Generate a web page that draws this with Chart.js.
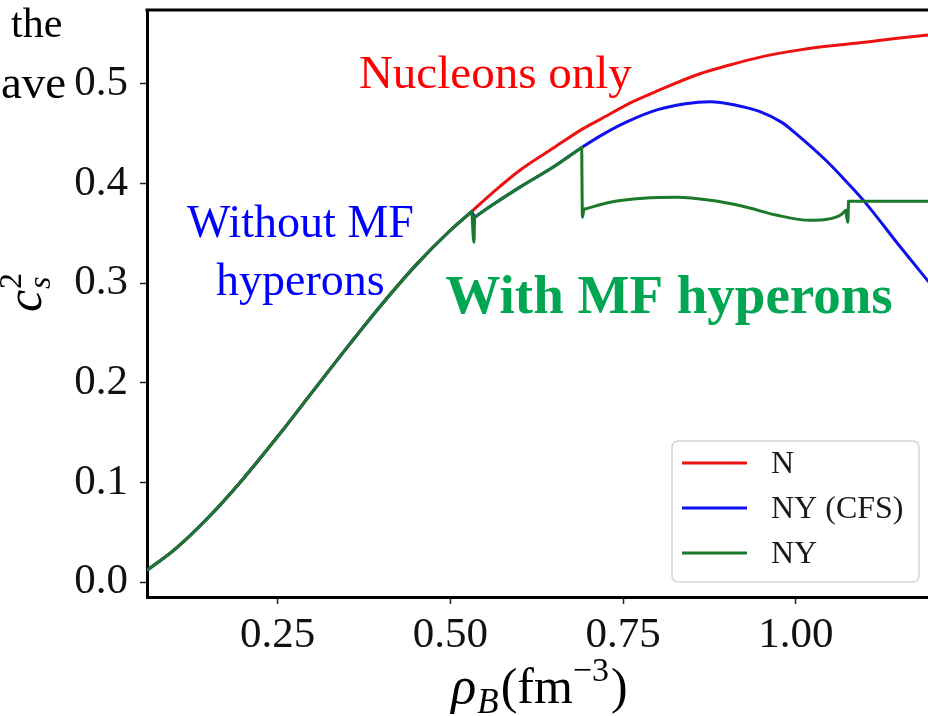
<!DOCTYPE html>
<html>
<head>
<meta charset="utf-8">
<script src="https://cdn.jsdelivr.net/npm/chart.js@4.4.0/dist/chart.umd.min.js"></script>
<style>
  html, body { margin: 0; padding: 0; background: #fff; }
  #wrap { position: relative; width: 928px; height: 716px; overflow: hidden; }
  #c { position: absolute; left: 0; top: 0; }
  .frag { position: absolute; font-family: "Liberation Serif", "Times New Roman", serif; line-height: 42px; color: #000; white-space: nowrap; }
</style>
</head>
<body>
<div id="wrap">
  <canvas id="c" width="928" height="716"></canvas>
  <div class="frag" style="left:11px; top:2px; font-size:42px;">the</div>
  <div class="frag" style="left:1px; top:61px; font-size:47px;">ave</div>
</div>
<script>
// ---------- data ----------
// shared low-density part (all three EoS coincide)
const lowRho = [0.061, 0.10, 0.15, 0.20, 0.25, 0.30, 0.35, 0.40, 0.45, 0.50, 0.531];
const lowCs2 = [0.012, 0.032, 0.065, 0.1035, 0.146, 0.1905, 0.235, 0.278, 0.318, 0.353, 0.372];

// N (nucleons only)
const nRho = [0.56, 0.60, 0.65, 0.692, 0.716, 0.764, 0.80, 0.861, 0.90, 0.95, 1.006, 1.05, 1.103, 1.15, 1.191];
const nCs2 = [0.390, 0.413, 0.436, 0.455, 0.464, 0.482, 0.493, 0.510, 0.518, 0.527, 0.534, 0.538, 0.542, 0.546, 0.549];

// NY (CFS)  -- null marks a break in the curve (jump at hyperon onset)
const cfsRho = [0.531, 0.531, 0.535, 0.535, 0.535, 0.56, 0.60, 0.65, 0.690, 0.72, 0.756, 0.80, 0.84, 0.876, 0.91, 0.948, 0.98, 1.00, 1.045, 1.074, 1.100, 1.149, 1.191];
const cfsCs2 = [null, 0.372, 0.366, null, 0.366, 0.378, 0.396, 0.417, 0.436, 0.449, 0.462, 0.474, 0.480, 0.482, 0.479, 0.472, 0.461, 0.450, 0.422, 0.401, 0.381, 0.338, 0.302];

// NY (mean-field hyperons) -- null marks a break before/after each jump
const nyRho = [0.531, 0.531, 0.534, 0.535, 0.535, 0.535, 0.56, 0.60, 0.65, 0.690, 0.690, 0.690, 0.691, 0.693, 0.693,
               0.693, 0.731, 0.779, 0.828, 0.876, 0.923, 0.973, 1.020, 1.045, 1.064, 1.072, 1.072,
               1.072, 1.075, 1.076, 1.076, 1.076, 1.191];
const nyCs2 = [null, 0.372, 0.341, 0.366, null, 0.366, 0.378, 0.396, 0.417, 0.436, null, 0.436, 0.366, 0.374, null,
               0.374, 0.381, 0.385, 0.386, 0.383, 0.377, 0.368, 0.363, 0.364, 0.368, 0.373, null,
               0.373, 0.361, 0.382, null, 0.382, 0.382];

const seriesLabels = ['N', 'NY (CFS)', 'NY'];
const xTicks = [0.25, 0.50, 0.75, 1.00];
const yTicks = [0.0, 0.1, 0.2, 0.3, 0.4, 0.5];
const noteTexts = ['Nucleons only', 'Without MF', 'hyperons', 'With MF hyperons'];

// ---------- helpers ----------
const SERIF = '"Liberation Serif", "Times New Roman", serif';
function pts(xs, ys) { return xs.map((x, i) => ({ x: x, y: ys[i] })); }

const frame = {
  id: 'frame',
  afterDraw(chart) {
    const { ctx, chartArea: a } = chart;
    ctx.save();
    ctx.strokeStyle = '#000';
    ctx.lineWidth = 3;
    ctx.beginPath();
    ctx.moveTo(a.left - 1.5, a.top);
    ctx.lineTo(a.right, a.top);
    ctx.stroke();
    ctx.restore();
  }
};

const notes = {
  id: 'notes',
  afterDatasetsDraw(chart, args, opts) {
    const { ctx, scales } = chart;
    ctx.save();
    opts.items.forEach(it => {
      ctx.font = it.font;
      ctx.fillStyle = it.color;
      ctx.textAlign = 'center';
      ctx.textBaseline = 'alphabetic';
      ctx.fillText(it.text, scales.x.getPixelForValue(it.x), scales.y.getPixelForValue(it.y));
    });
    ctx.restore();
  }
};

const boxLegend = {
  id: 'boxLegend',
  afterDraw(chart, args, o) {
    const ctx = chart.ctx;
    ctx.save();
    const r = 6;
    ctx.beginPath();
    ctx.moveTo(o.left + r, o.top);
    ctx.arcTo(o.right, o.top, o.right, o.bottom, r);
    ctx.arcTo(o.right, o.bottom, o.left, o.bottom, r);
    ctx.arcTo(o.left, o.bottom, o.left, o.top, r);
    ctx.arcTo(o.left, o.top, o.right, o.top, r);
    ctx.closePath();
    ctx.fillStyle = 'rgba(255,255,255,0.8)';
    ctx.fill();
    ctx.strokeStyle = '#d4d4d4';
    ctx.lineWidth = 1.5;
    ctx.stroke();
    chart.data.datasets.forEach((ds, i) => {
      const y = o.firstRow + i * o.rowGap;
      ctx.strokeStyle = ds.borderColor;
      ctx.lineWidth = 3;
      ctx.beginPath();
      ctx.moveTo(o.lineX0, y);
      ctx.lineTo(o.lineX1, y);
      ctx.stroke();
      ctx.fillStyle = '#1a1a1a';
      ctx.font = '32px ' + SERIF;
      ctx.textAlign = 'left';
      ctx.textBaseline = 'middle';
      ctx.fillText(ds.label, o.textX, y + 2);
    });
    ctx.restore();
  }
};

function drawPieces(ctx, pieces, x0, y0) {
  let x = x0;
  pieces.forEach(p => {
    ctx.font = p.font;
    ctx.fillText(p.t, x, y0 + p.dy);
    x += ctx.measureText(p.t).width + (p.gap || 0);
  });
}
function piecesWidth(ctx, pieces) {
  let w = 0;
  pieces.forEach(p => { ctx.font = p.font; w += ctx.measureText(p.t).width + (p.gap || 0); });
  return w;
}

const axisTitles = {
  id: 'axisTitles',
  afterDraw(chart) {
    const { ctx, chartArea: a } = chart;
    ctx.save();
    ctx.fillStyle = '#000';
    ctx.textAlign = 'left';
    ctx.textBaseline = 'alphabetic';
    // x title: rho_B (fm^-3)
    const xp = [
      { t: 'ρ', font: 'italic 52px ' + SERIF, dy: 0, gap: 1 },
      { t: 'B', font: 'italic 35px ' + SERIF, dy: 10, gap: 2 },
      { t: '(fm', font: '50px ' + SERIF, dy: 0 },
      { t: '−3', font: '34px ' + SERIF, dy: -22, gap: 2 },
      { t: ')', font: '50px ' + SERIF, dy: 0 }
    ];
    const cx = (a.left + a.right) / 2 + 2;
    drawPieces(ctx, xp, cx - piecesWidth(ctx, xp) / 2, a.bottom + 106);
    // y title: c_s^2 (rotated)
    ctx.translate(a.left - 106, 292);
    ctx.rotate(-Math.PI / 2);
    ctx.font = 'italic 50px ' + SERIF;
    const cw = ctx.measureText('c').width;
    const total = cw + 18;
    const sx = -total / 2;
    ctx.fillText('c', sx, 0);
    ctx.font = '32px ' + SERIF;
    ctx.fillText('2', sx + cw + 1, -20);
    ctx.font = 'italic 32px ' + SERIF;
    ctx.fillText('s', sx + cw + 1, 9);
    ctx.restore();
  }
};

const tickFont = { family: SERIF, size: 43 };

new Chart(document.getElementById('c'), {
  type: 'line',
  data: {
    datasets: [
      { label: seriesLabels[0], data: pts(lowRho.concat(nRho), lowCs2.concat(nCs2)), borderColor: '#ee1111', order: 3 },
      { label: seriesLabels[1], data: pts(lowRho.concat(cfsRho), lowCs2.concat(cfsCs2)), borderColor: '#1010ee', order: 2 },
      { label: seriesLabels[2], data: pts(lowRho.concat(nyRho), lowCs2.concat(nyCs2)), borderColor: '#1a7a2a', order: 1 }
    ].map(d => Object.assign(d, { borderWidth: 3, pointRadius: 0, cubicInterpolationMode: 'monotone', spanGaps: false, fill: false, borderJoinStyle: 'round', borderCapStyle: 'round' }))
  },
  options: {
    responsive: false,
    animation: false,
    devicePixelRatio: 1,
    layout: { padding: { top: 10, left: 0, right: 0, bottom: 0 } },
    plugins: {
      legend: { display: false },
      tooltip: { enabled: false },
      notes: {
        items: [
          { text: noteTexts[0], x: 0.565, y: 0.496, color: '#ff0000', font: '47px ' + SERIF },
          { text: noteTexts[1], x: 0.283, y: 0.346, color: '#0000ff', font: '46px ' + SERIF },
          { text: noteTexts[2], x: 0.283, y: 0.288, color: '#0000ff', font: '46px ' + SERIF },
          { text: noteTexts[3], x: 0.8165, y: 0.270, color: '#00a651', font: 'bold 55px ' + SERIF }
        ]
      },
      boxLegend: { left: 672, top: 441, right: 919, bottom: 582, lineX0: 682, lineX1: 747, textX: 771, firstRow: 463, rowGap: 45 }
    },
    scales: {
      x: {
        type: 'linear',
        min: 0.061,
        max: 1.191,
        afterBuildTicks: s => { s.ticks = xTicks.map(v => ({ value: v })); },
        afterFit: s => { s.height = 119; s.paddingLeft = 0; s.paddingRight = 0; },
        ticks: { callback: v => Number(v).toFixed(2), font: tickFont, color: '#111', padding: 6, maxRotation: 0, autoSkip: false },
        grid: { display: true, drawOnChartArea: false, drawTicks: true, tickLength: 7, tickColor: '#222', tickWidth: 1.5 },
        border: { display: true, color: '#000', width: 3 }
      },
      y: {
        type: 'linear',
        min: -0.015,
        max: 0.574,
        afterBuildTicks: s => { s.ticks = yTicks.map(v => ({ value: v })); },
        afterFit: s => { s.width = 147; s.paddingTop = 0; s.paddingBottom = 0; },
        ticks: { callback: v => Number(v).toFixed(1), font: tickFont, color: '#111', padding: 12, autoSkip: false },
        grid: { display: true, drawOnChartArea: false, drawTicks: true, tickLength: 7, tickColor: '#222', tickWidth: 1.5 },
        border: { display: true, color: '#000', width: 3 }
      }
    }
  },
  plugins: [frame, notes, boxLegend, axisTitles]
});
</script>
</body>
</html>
